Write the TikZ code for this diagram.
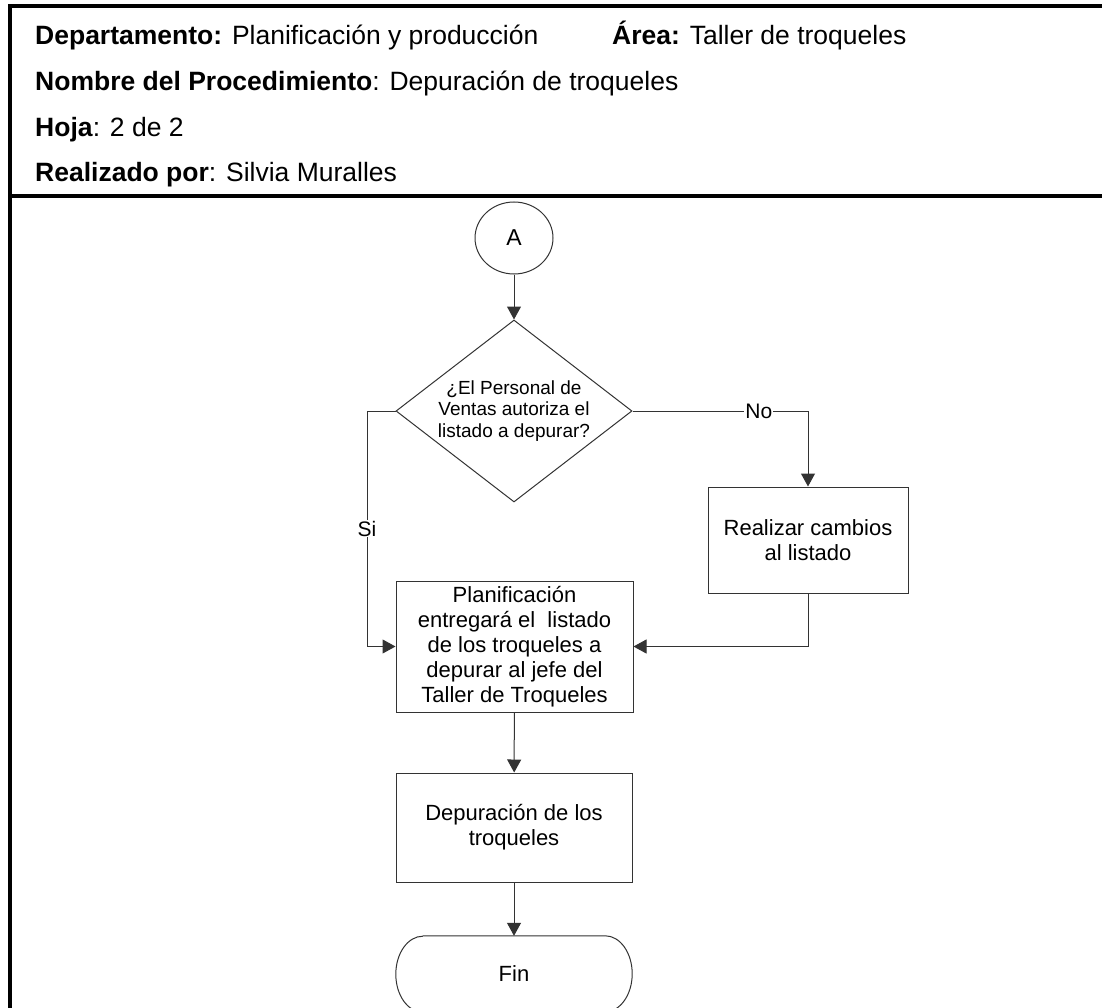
\documentclass[tikz,border=0pt]{standalone}
\usepackage{fontspec}
\setmainfont{Liberation Sans}
\usetikzlibrary{arrows.meta,shapes.geometric,calc}
\begin{document}
\begin{tikzpicture}[x=1pt,y=-1pt,
  line/.style={draw=black!80, line width=1pt},
  arr/.style={line, -{Triangle[length=13pt,width=14pt]}},
  box/.style={draw=black!80, line width=1pt, rectangle, align=center, inner sep=0pt,
    font=\fontsize{22}{25}\selectfont},
  dec/.style={draw=black!80, line width=1pt, diamond, aspect=1.3, inner sep=0pt,
    minimum width=236pt, minimum height=182pt, align=center,
    font=\fontsize{19}{21.5}\selectfont},
  conn/.style={draw=black!80, line width=1pt, ellipse, inner sep=0pt,
    minimum width=78pt, minimum height=72pt, font=\fontsize{23}{26}\selectfont},
  hdr/.style={anchor=base west, inner sep=0pt, font=\fontsize{26.5}{30}\selectfont},
  lbl/.style={fill=white, inner sep=1pt, font=\fontsize{21}{24}\selectfont},
  frame/.style={line width=4pt, black}]
\useasboundingbox (0,0) rectangle (1102,1008);
\fill[white] (0,0) rectangle (1102,1008);

% outer frame and header separator
\draw[frame] (10,1012) -- (10,6) -- (1106,6);
\draw[frame] (10,196) -- (1106,196);

% header
\node[hdr] (h1) at (35,44.5) {\textbf{Departamento:} Planificación y producción};
\node[hdr] (h1b) at (612,44.5) {\textbf{Área:} Taller de troqueles};
\node[hdr] (h2) at (35,91) {\textbf{Nombre del Procedimiento}: Depuración de troqueles};
\node[hdr] (h3) at (35,137) {\textbf{Hoja}: 2 de 2};
\node[hdr] (h4) at (35,181.5) {\textbf{Realizado por}: Silvia Muralles};

% flowchart nodes
\node[conn] (A) at (514,238) {A};
\node[dec] (D) at (514,411) {¿El Personal de\\Ventas autoriza el\\listado a depurar?};
\node[box, minimum width=200pt, minimum height=106pt] (R) at (808,540) {Realizar cambios\\al listado};
\node[box, minimum width=237pt, minimum height=131pt] (P) at (514.5,646.5)
  {Planificación\\entregará el \ listado\\de los troqueles a\\depurar al jefe del\\Taller de Troqueles};
\node[box, minimum width=236pt, minimum height=109pt] (Q) at (514,827.5) {Depuración de los\\troqueles};
\node[inner sep=0pt, minimum width=236pt, minimum height=76pt, font=\fontsize{22}{25}\selectfont] (F) at (514,974) {Fin};
\draw[line] ($(F.north west)+(27,0)$) -- ($(F.north east)+(-27,0)$)
  arc[start angle=-90, end angle=90, x radius=27, y radius=38]
  -- ($(F.south west)+(27,0)$)
  arc[start angle=90, end angle=270, x radius=27, y radius=38];

\coordinate (si) at (367,646.5);

% connectors
\draw[arr] (A) -- (D.north);
\draw[arr] (D.east) -- node[lbl, pos=0.72] {No} (D.east -| R.north) -- (R.north);
\draw[arr] (D.west) -- (D.west -| si) -- node[lbl] {Si} (si) -- (P.west);
\draw[arr] (R.south) |- (P.east);
\draw[arr] (P) -- (Q);
\draw[arr] (Q) -- (F.north);
\end{tikzpicture}
\end{document}
